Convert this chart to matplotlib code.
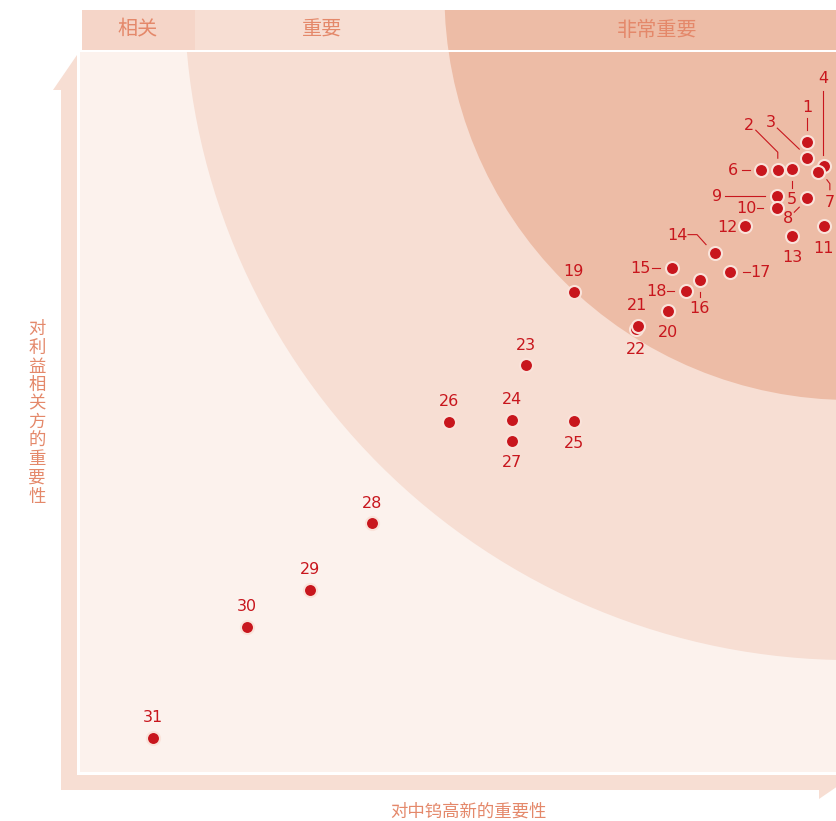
"""Materiality matrix: importance to stakeholders vs. importance to the company."""

import matplotlib

matplotlib.use("Agg")
import matplotlib.pyplot as plt
from matplotlib.patches import Circle, Polygon, Rectangle

# topic ids and their scores (0-100 on both axes)
ids = list(range(1, 32))
x_score = [96.2, 92.3, 96.2, 98.4, 94.2, 90.1, 97.6, 96.2, 92.2, 92.2,
           98.4, 88.0, 94.2, 84.0, 78.3, 82.0, 86.0, 80.2, 65.3, 77.8,
           73.8, 73.5, 59.0, 57.1, 65.3, 48.8, 57.1, 38.6, 30.4, 22.1, 9.7]
y_score = [83.3, 79.6, 81.2, 80.2, 79.8, 79.6, 79.4, 75.9, 76.2, 74.6,
           72.2, 72.2, 70.9, 68.7, 66.7, 65.1, 66.1, 63.6, 63.5, 61.0,
           59.0, 58.6, 53.8, 46.6, 46.4, 46.3, 43.8, 32.9, 24.1, 19.2, 4.5]

zones = ["相关", "重要", "非常重要"]
x_title = "对中钨高新的重要性"
y_title = "对利益相关方的重要性"

RED = "#C8161D"
LIGHT = "#FCF2ED"
MID = "#F7DED3"
DARK = "#EDBCA6"
HEAD = "#F5D5C8"
TXT = "#E4886A"
CJK = ["Noto Sans CJK SC", "DejaVu Sans"]
NUM = ["DejaVu Sans Condensed", "Liberation Sans Narrow", "DejaVu Sans"]

PX = 7.56  # pixels per score unit

# label placement: text offset (px, y down) and optional leader polyline
labels = {
    1: (0, -35, [(0, -24), (0, -12)]),
    2: (-29, -45, [(-22, -40), (0, -18), (0, -12)]),
    3: (-36, -36, [(-30, -30), (-8, -9)]),
    4: (-1, -87, [(-1, -75), (-1, -11)]),
    5: (0, 31, [(0, 12), (0, 19)]),
    6: (-28, 0, [(-19, 0), (-11, 0)]),
    7: (12, 31, [(9, 8), (12, 12), (12, 18)]),
    8: (-19, 20, [(-13, 14), (-8, 9)]),
    9: (-60, 1, [(-52, 0), (-12, 0)]),
    10: (-31, 0, [(-20, 0), (-14, 0)]),
    11: (0, 22, None),
    12: (-18, 1, None),
    13: (0, 22, None),
    14: (-38, -17, [(-27, -18), (-18, -18), (-9, -8)]),
    15: (-32, 1, [(-20, 0), (-12, 0)]),
    16: (0, 29, [(0, 12), (0, 17)]),
    17: (30, 0, [(13, 0), (20, 0)]),
    18: (-30, 0, [(-19, 0), (-12, 0)]),
    20: (0, 22, None),
    21: (-1, -20, None),
    22: (0, 21, None),
    25: (0, 22, None),
    27: (0, 22, None),
}

fig = plt.figure(figsize=(8.36, 8.21), dpi=100)

# overlay in pixel coordinates for the arrow frame and axis titles
bg = fig.add_axes([0, 0, 1, 1])
bg.set_xlim(0, 836)
bg.set_ylim(821, 0)
bg.axis("off")
frame = [(77, 55), (77, 775), (854, 775), (819, 799), (819, 790),
         (61, 790), (61, 90), (53, 90)]
bg.add_patch(Polygon(frame, closed=True, facecolor=MID, edgecolor="none"))
bg.text(37, 413, "\n".join(y_title), ha="center", va="center", color=TXT,
        fontsize=12.5, family=CJK, linespacing=1.04)
bg.text(468, 812, x_title, ha="center", va="center", color=TXT,
        fontsize=12.5, family=CJK)

ax = fig.add_axes([80 / 836, (821 - 772) / 821, 756 / 836, 762 / 821])
ax.set_xlim(0, 100)
ax.set_ylim(0, 762 / PX)
ax.axis("off")

top = (772 - 52) / PX
ax.add_patch(Rectangle((0, 0), 100, top, facecolor=LIGHT, edgecolor="none", zorder=0))
ax.add_patch(Circle((102, 103), 88.2, facecolor=MID, edgecolor="none", zorder=1))
ax.add_patch(Circle((102, 103), 53.8, facecolor=DARK, edgecolor="none", zorder=1))
ax.add_patch(Rectangle((0, top), 100, 2.2 / PX, facecolor="white", edgecolor="none", zorder=2))
hb = (772 - 50) / PX
ax.add_patch(Rectangle((2 / PX, hb), (195 - 82) / PX, 40 / PX, facecolor=HEAD,
                       edgecolor="none", zorder=2))
ax.add_patch(Rectangle((0, hb), 2 / PX, 40 / PX, facecolor="white", edgecolor="none", zorder=2))

hy = (772 - 30) / PX
for name, px in zip(zones, [138, 322, 657]):
    ax.text((px - 80) / PX, hy, name, ha="center", va="center", color=TXT,
            fontsize=14.5, family=CJK, zorder=3)

on_top = {7, 21}
for i, x, y in zip(ids, x_score, y_score):
    ax.scatter([x], [y], s=88, color=RED, edgecolors="#FAE3DA", linewidths=1.5,
               zorder=6 if i in on_top else 5)
    dx, dy, leader = labels.get(i, (0, -20, None))
    ax.text(x + dx / PX, y - dy / PX, str(i), ha="center", va="center",
            color=RED, fontsize=11.5, family=NUM, zorder=7)
    if leader:
        ax.plot([x + p[0] / PX for p in leader], [y - p[1] / PX for p in leader],
                color=RED, lw=0.8, zorder=4)

fig.savefig("out.png", dpi=100)
